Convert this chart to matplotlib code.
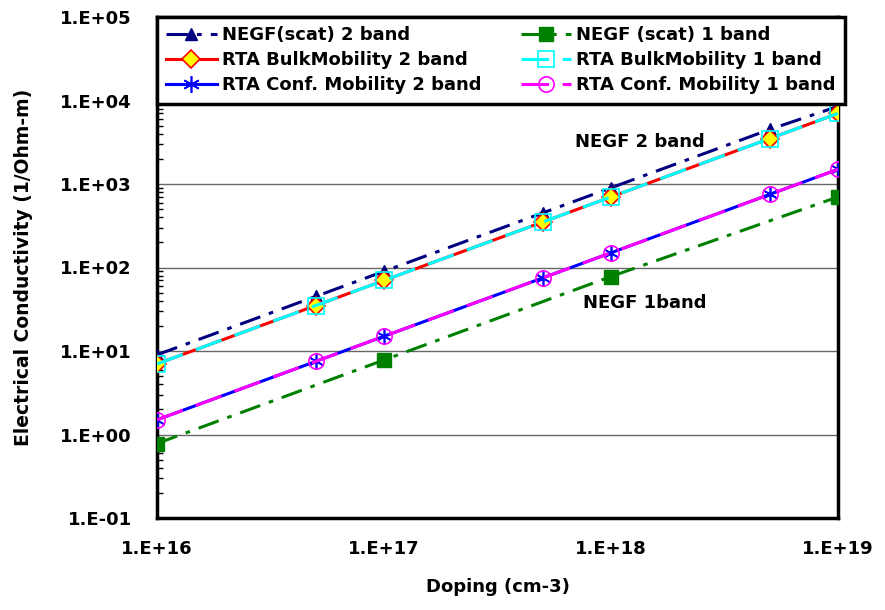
import matplotlib.pyplot as plt
import numpy as np
from matplotlib.ticker import FixedLocator, LogLocator, NullFormatter

# Doping levels (cm-3)
DOPING_FULL = [1e16, 5e16, 1e17, 5e17, 1e18, 5e18, 1e19]
DOPING_NEGF1 = [1e16, 1e17, 1e18, 1e19]

# conductivity values (1/Ohm-m)
NEGF_2BAND = [9, 45, 90, 450, 900, 4500, 8500]
NEGF_1BAND = [0.78, 7.8, 78, 700]
RTA_BULK_2BAND = [7, 35, 70, 350, 700, 3500, 7000]
RTA_BULK_1BAND = [7, 35, 70, 350, 700, 3500, 7000]
RTA_CONF_2BAND = [1.5, 7.5, 15, 75, 150, 750, 1500]
RTA_CONF_1BAND = [1.5, 7.5, 15, 75, 150, 750, 1500]

X_TICKS = [1e16, 1e17, 1e18, 1e19]
X_TICK_LABELS = ["1.E+16", "1.E+17", "1.E+18", "1.E+19"]
Y_TICKS = [1e-1, 1e0, 1e1, 1e2, 1e3, 1e4, 1e5]
Y_TICK_LABELS = ["1.E-01", "1.E+00", "1.E+01", "1.E+02", "1.E+03", "1.E+04", "1.E+05"]

plt.rcParams["font.family"] = ["DejaVu Sans"]
plt.rcParams["font.weight"] = "bold"

fig = plt.figure(figsize=(8.85, 6.10), dpi=100)
ax = fig.add_axes([157 / 885, 92 / 610, (838 - 157) / 885, (518 - 17) / 610])

DASH_DOT = (0, (7, 3, 1.5, 3))
DASHED = (0, (9, 4.5))

H_NEGF2, = ax.plot(DOPING_FULL, NEGF_2BAND, color="#000080", lw=2.2, linestyle=DASH_DOT,
                   marker="^", markersize=8, markerfacecolor="#000080", markeredgecolor="#000080",
                   label="NEGF(scat) 2 band", zorder=3)
H_NEGF1, = ax.plot(DOPING_NEGF1, NEGF_1BAND, color="#008000", lw=2.2, linestyle=DASH_DOT,
                   marker="s", markersize=10, markerfacecolor="#008000", markeredgecolor="#008000",
                   label="NEGF (scat) 1 band", zorder=3)
H_BULK2, = ax.plot(DOPING_FULL, RTA_BULK_2BAND, color="#ff0000", lw=2.2, linestyle="-",
                   marker="D", markersize=9, markerfacecolor="#ffff00", markeredgecolor="#ff0000",
                   markeredgewidth=1.2, label="RTA BulkMobility 2 band", zorder=4)
H_BULK1, = ax.plot(DOPING_FULL, RTA_BULK_1BAND, color="#00ffff", lw=2.2, linestyle=DASHED,
                   marker="s", markersize=11, markerfacecolor="none", markeredgecolor="#00ffff",
                   markeredgewidth=1.2, label="RTA BulkMobility 1 band", zorder=5)
H_CONF2, = ax.plot(DOPING_FULL, RTA_CONF_2BAND, color="#0000ff", lw=2.2, linestyle="-",
                   marker=(6, 2, 0), markersize=12, markeredgecolor="#0000ff", markeredgewidth=1.2,
                   label="RTA Conf. Mobility 2 band", zorder=4)
H_CONF1, = ax.plot(DOPING_FULL, RTA_CONF_1BAND, color="#ff00ff", lw=2.2, linestyle=DASHED,
                   marker="o", markersize=11, markerfacecolor="none", markeredgecolor="#ff00ff",
                   markeredgewidth=1.2, label="RTA Conf. Mobility 1 band", zorder=5)

ax.set_xscale("log")
ax.set_yscale("log")
ax.set_xlim(1e16, 1e19)
ax.set_ylim(1e-1, 1e5)

ax.xaxis.set_major_locator(FixedLocator(X_TICKS))
ax.set_xticklabels(X_TICK_LABELS, fontsize=13, fontweight="bold")
ax.xaxis.set_minor_locator(FixedLocator([]))
ax.tick_params(axis="x", which="both", length=0, pad=16)

ax.yaxis.set_major_locator(FixedLocator(Y_TICKS))
ax.set_yticklabels(Y_TICK_LABELS, fontsize=13, fontweight="bold")
ax.yaxis.set_minor_locator(LogLocator(base=10, subs=np.arange(2, 10), numticks=20))
ax.yaxis.set_minor_formatter(NullFormatter())
ax.tick_params(axis="y", which="major", length=0, pad=18)
ax.tick_params(axis="y", which="minor", direction="in", length=4, width=1)

ax.grid(axis="y", which="major", color="#666666", lw=1)
ax.set_axisbelow(True)
for spine in ax.spines.values():
    spine.set_linewidth(2.5)

ax.set_xlabel("Doping (cm-3)", fontsize=13, fontweight="bold", labelpad=14)
ax.set_ylabel("Electrical Conductivity (1/Ohm-m)", fontsize=13.5, fontweight="bold", labelpad=20)

ax.text(1.34e18, 3200, "NEGF 2 band", fontsize=13, fontweight="bold", ha="center", va="center")
ax.text(1.41e18, 38, "NEGF 1band", fontsize=13, fontweight="bold", ha="center", va="center")

# column-major fill, so order the handles to read row by row like the original
HANDLES = [H_NEGF2, H_BULK2, H_CONF2, H_NEGF1, H_BULK1, H_CONF1]
leg = fig.legend(handles=HANDLES, loc="upper left",
                 bbox_to_anchor=(157 / 885, 507 / 610, 688 / 885, 86 / 610),
                 mode="expand", ncol=2, frameon=True, fancybox=False,
                 handlelength=2.8, borderaxespad=0, handletextpad=0.3, columnspacing=1.0,
                 labelspacing=0.4, borderpad=0.5, prop={"weight": "bold", "size": 13})
leg.get_frame().set_edgecolor("black")
leg.get_frame().set_linewidth(2.5)
leg.get_frame().set_alpha(1)
leg.set_zorder(10)

fig.savefig("out.png", dpi=100)
